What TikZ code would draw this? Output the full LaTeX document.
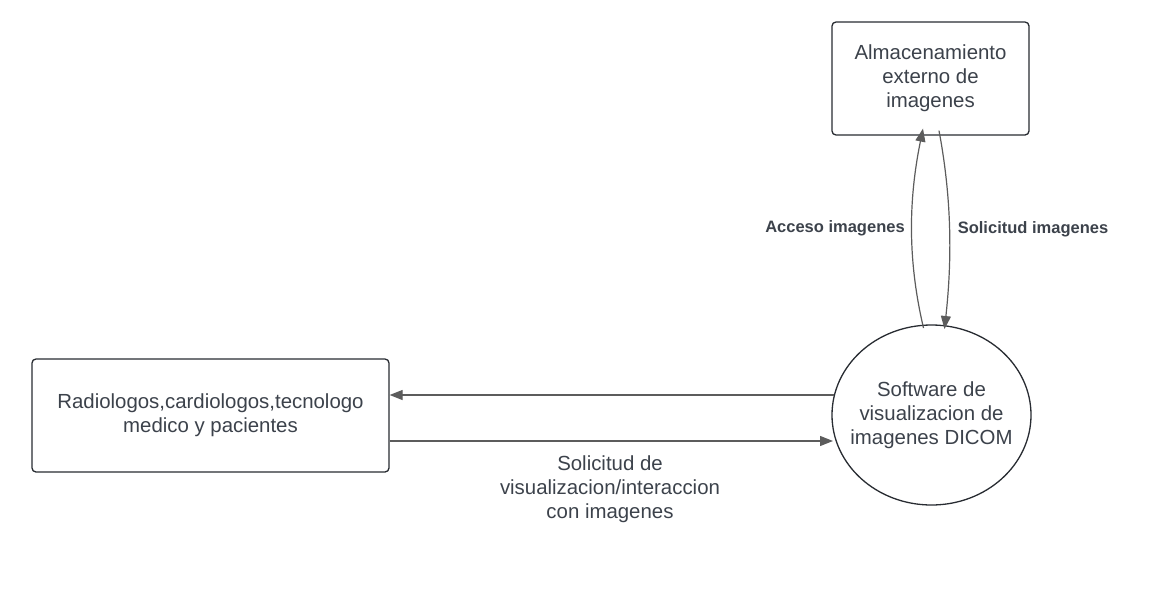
\documentclass[tikz,border=0pt]{standalone}
\usepackage{fontspec}
\setmainfont{Liberation Sans}
\usetikzlibrary{arrows.meta,shapes.geometric}
\definecolor{txt}{RGB}{60,66,75}
\definecolor{edge}{RGB}{40,44,50}
\definecolor{arr}{RGB}{92,92,92}
\tikzset{
  entity/.style={draw=edge,line width=1.3pt,rounded corners=4pt,fill=white,text=txt,align=center,inner sep=0pt,font=\fontsize{20.4}{24}\selectfont},
  proc/.style={ellipse,draw=edge,line width=1.3pt,fill=white,inner sep=0pt,outer sep=0pt,minimum width=199pt,minimum height=180pt},
  flow/.style={draw=arr,line width=1.2pt,-{Triangle[length=13pt,width=10pt]}},
  lbl/.style={text=txt,align=center,font=\fontsize{20.4}{24}\selectfont},
  blbl/.style={text=txt,align=center,font=\bfseries\fontsize{16.5}{20}\selectfont}
}
\begin{document}
\begin{tikzpicture}[x=1pt,y=-1pt]
\useasboundingbox (0,0) rectangle (1149,592);
\node[entity,minimum width=197pt,minimum height=113pt] (store) at (930.5,78.5) {Almacenamiento\\externo de\\imagenes};
\node[entity,minimum width=357pt,minimum height=113pt] (users) at (210.5,415.5) {Radiologos,cardiologos,tecnologo\\medico y pacientes};
\node[proc] (sw) at (931.5,415) {};
\node[lbl] (swt) at (sw.center) {Software de\\visualizacion de\\imagenes DICOM};
\coordinate (a1) at ([xshift=-8pt,yshift=-3pt]sw.north);
\coordinate (a2) at ([xshift=-7.5pt,yshift=7pt]store.south);
\coordinate (s1) at ([xshift=8.5pt,yshift=5pt]store.south);
\coordinate (s2) at ([xshift=13pt,yshift=-4pt]sw.north);
\draw[flow] (a1) .. controls (908,262) and (908,202) .. (a2);
\draw[flow] (s1) .. controls (952,200) and (952,260) .. (s2);
\node[blbl] (lacc) at (835,228) {Acceso imagenes};
\node[blbl] (lsol) at (1033,229) {Solicitud imagenes};
\coordinate (h1) at (834,395);
\coordinate (h2) at (833,441);
\draw[flow] (h1) -- (users.east |- h1);
\draw[flow] (users.east |- h2) -- (h2);
\node[lbl] (lreq) at (610,489) {Solicitud de\\visualizacion/interaccion\\con imagenes};
\end{tikzpicture}
\end{document}
